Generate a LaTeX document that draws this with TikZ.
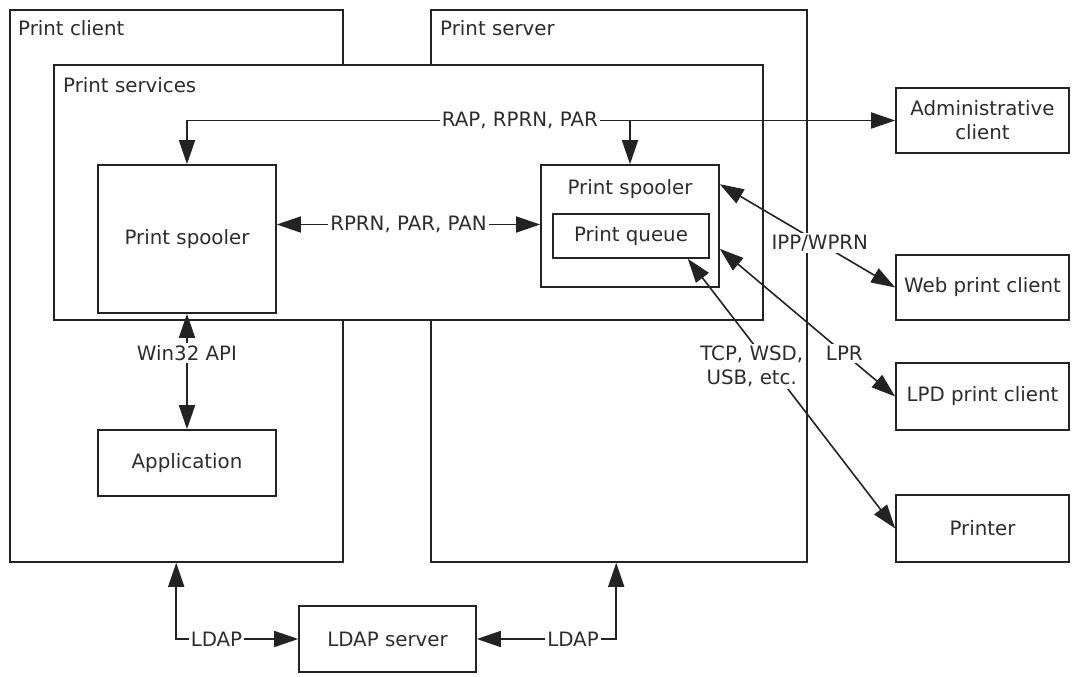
\documentclass[tikz,border=0pt]{standalone}
\usepackage{fontspec}
\setmainfont{DejaVu Sans}
\usetikzlibrary{arrows.meta,calc}
\definecolor{txt}{RGB}{45,45,45}
\definecolor{ln}{RGB}{35,35,35}
\begin{document}
\begin{tikzpicture}[x=1pt,y=-1pt,
  every node/.style={font=\fontsize{19.8}{24}\selectfont, text=txt},
  box/.style={draw=ln, line width=1.6pt, fill=white, align=center, inner sep=0pt},
  cont/.style={box},
  ttl/.style={anchor=west, inner sep=0pt},
  lab/.style={fill=white, inner sep=2pt, align=center},
  conn/.style={draw=ln, line width=1.6pt},
  arr/.style={conn, -{Triangle[length=24pt,width=16pt]}},
  barr/.style={conn, {Triangle[length=24pt,width=16pt]}-{Triangle[length=24pt,width=16pt]}}
]
\useasboundingbox (0,0) rectangle (1077,677);
% containers
\node[cont, minimum width=333pt, minimum height=552pt] (pc) at (176.5,286) {};
\node[cont, minimum width=376pt, minimum height=552pt] (ps) at (619,286) {};
\node[ttl] (pct) at (18,28) {Print client};
\node[ttl] (pst) at (440,28) {Print server};
\node[cont, minimum width=709pt, minimum height=255pt] (svc) at (408.5,192.5) {};
\node[ttl] (svct) at (63,85) {Print services};
% inner boxes
\node[box, minimum width=178pt, minimum height=148pt] (lsp) at (187,239) {Print spooler};
\node[box, minimum width=178pt, minimum height=122pt] (rsp) at (630,226) {};
\node[inner sep=0pt] (rspt) at (630,189) {Print spooler};
\node[box, minimum width=156pt, minimum height=44pt] (pq) at (631,236) {Print queue};
\node[box, minimum width=178pt, minimum height=66pt] (app) at (187,463) {Application};
% outside boxes
\node[box, minimum width=173pt, minimum height=65pt] (adm) at (982.5,120.5) {Administrative\\client};
\node[box, minimum width=173pt, minimum height=65pt] (web) at (982.5,287.5) {Web print client};
\node[box, minimum width=173pt, minimum height=67pt] (lpd) at (982.5,396.5) {LPD print client};
\node[box, minimum width=173pt, minimum height=67pt] (prn) at (982.5,528.5) {Printer};
\node[box, minimum width=177pt, minimum height=66pt] (ldap) at (387.5,639) {LDAP server};
% connectors
\draw[barr] (lsp.north) |- (adm.west) node[lab, pos=0.735] {RAP, RPRN, PAR};
\draw[arr] (rsp.north |- adm.west) -- (rsp.north);
\draw[barr] ($(lsp.east |- rsp.west)+(0,-1.5)$) -- ($(rsp.west)+(0,-1.5)$) node[lab, midway] {RPRN, PAR, PAN};
\draw[barr] (lsp.south) -- (app.north) node[lab, pos=0.34] {Win32 API};
\draw[barr] ($(rsp.north east)+(0,20)$) -- (web.west) node[lab, pos=0.57] {IPP/WPRN};
\draw[barr] ($(rsp.south east)+(0,-39)$) -- (lpd.west) node[lab, pos=0.71] {LPR};
\draw[barr] ($(pq.south east)+(-22,0)$) -- (prn.west) node[lab, pos=0.4, xshift=-19pt] {TCP, WSD,\\USB, etc.};
\draw[barr] ($(pc.south west)+(167,0)$) |- (ldap.west) node[lab, pos=0.665] {LDAP};
\draw[barr] ($(ps.south west)+(186,0)$) |- (ldap.east) node[lab, pos=0.655] {LDAP};
\end{tikzpicture}
\end{document}
